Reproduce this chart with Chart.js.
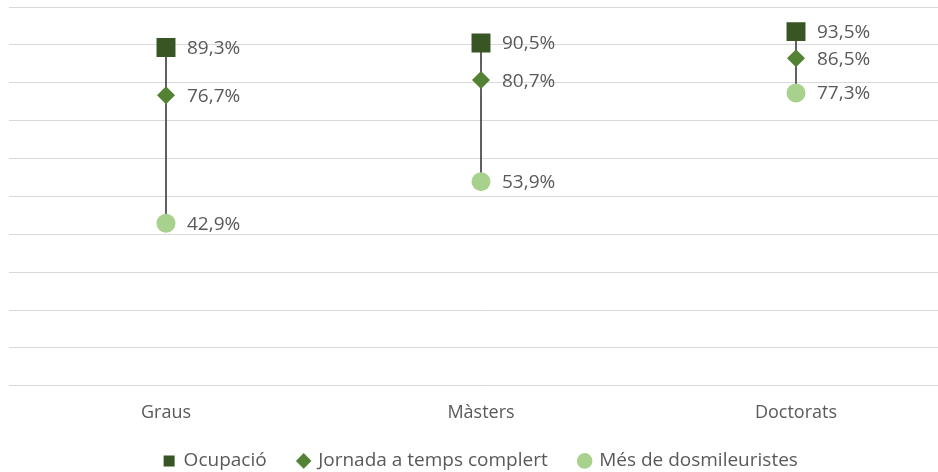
<!DOCTYPE html>
<html>
<head>
<meta charset="utf-8">
<script src="https://cdn.jsdelivr.net/npm/chart.js@4.4.1/dist/chart.umd.min.js"></script>
<style>
  html, body { margin: 0; padding: 0; background: #fff; overflow: hidden; }
  #wrap { width: 960px; height: 472px; }
</style>
</head>
<body>
<div id="wrap"><canvas id="chart"></canvas></div>
<script>
const categories = ["Graus", "Màsters", "Doctorats"];
const ocupacio = [89.3, 90.5, 93.5];
const jornada = [76.7, 80.7, 86.5];
const dosmileuristes = [42.9, 53.9, 77.3];
const yMin = 0;
const yMax = 100;
const yStep = 10;

const TEXT = "#595959";
const GRID = "#d9d9d9";
const FONT = "'Open Sans', sans-serif";

// high-low line from the lowest to the highest value of each category
const ranges = categories.map((c, i) => {
  const vals = [ocupacio[i], jornada[i], dosmileuristes[i]];
  return [Math.min(...vals), Math.max(...vals)];
});

const fmt = (v) => v.toFixed(1).replace(".", ",") + "%";

const valueLabels = {
  id: "valueLabels",
  afterDatasetsDraw(chart) {
    const ctx = chart.ctx;
    ctx.save();
    ctx.font = "19px " + FONT;
    ctx.fillStyle = TEXT;
    ctx.textAlign = "left";
    ctx.textBaseline = "middle";
    chart.data.datasets.forEach((ds, i) => {
      if (ds.type !== "line") return;
      chart.getDatasetMeta(i).data.forEach((pt, j) => {
        ctx.fillText(fmt(ds.data[j]), pt.x + 21, pt.y + 1);
      });
    });
    ctx.restore();
  },
};

new Chart(document.getElementById("chart"), {
  data: {
    labels: categories,
    datasets: [
      {
        type: "line",
        label: "Ocupació",
        data: ocupacio,
        showLine: false,
        pointStyle: "rect",
        pointRadius: 13.4,
        pointBackgroundColor: "#375623",
        pointBorderWidth: 0,
        backgroundColor: "#375623",
        borderColor: "#375623",
        order: 0,
      },
      {
        type: "line",
        label: "Jornada a temps complert",
        data: jornada,
        showLine: false,
        pointStyle: "rectRot",
        pointRadius: 9,
        pointBackgroundColor: "#548235",
        pointBorderWidth: 0,
        backgroundColor: "#548235",
        borderColor: "#548235",
        order: 0,
      },
      {
        type: "line",
        label: "Més de dosmileuristes",
        data: dosmileuristes,
        showLine: false,
        pointStyle: "circle",
        pointRadius: 9.5,
        pointBackgroundColor: "#a9d18e",
        pointBorderWidth: 0,
        backgroundColor: "#a9d18e",
        borderColor: "#a9d18e",
        order: 0,
      },
      {
        type: "bar",
        label: "",
        data: ranges,
        barThickness: 1,
        backgroundColor: "#404040",
        borderWidth: 0,
        order: 1,
      },
    ],
  },
  options: {
    responsive: true,
    maintainAspectRatio: false,
    animation: false,
    layout: {
      autoPadding: false,
      padding: { left: 8.5, right: 6.5, top: 7, bottom: -8.4 },
    },
    plugins: {
      tooltip: { enabled: false },
      legend: {
        position: "bottom",
        labels: {
          filter: (item) => item.text !== "",
          usePointStyle: true,
          boxWidth: 10,
          boxHeight: 11,
          padding: 32,
          color: TEXT,
          font: { family: FONT, size: 19 },
        },
      },
    },
    scales: {
      x: {
        grid: { display: false, drawTicks: false },
        border: { display: false },
        ticks: { color: TEXT, padding: 16, font: { family: FONT, size: 18 } },
        afterFit: (scale) => { scale.height -= 20; },
      },
      y: {
        min: yMin,
        max: yMax,
        ticks: { display: false, stepSize: yStep },
        grid: { color: GRID, drawTicks: false },
        border: { display: false },
      },
    },
  },
  plugins: [valueLabels],
});
</script>
</body>
</html>
